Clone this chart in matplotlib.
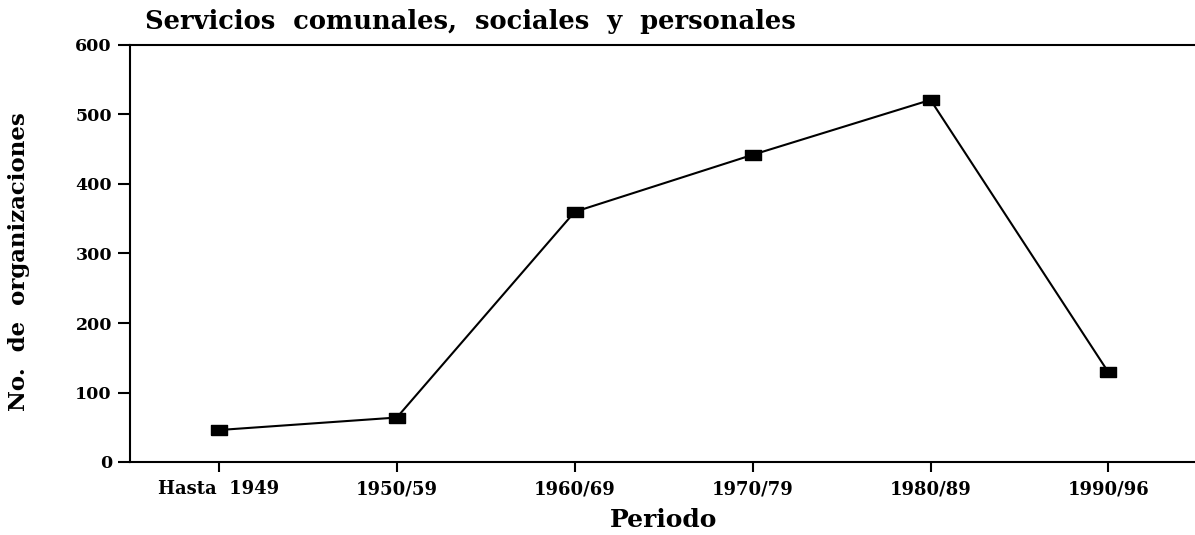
import matplotlib
matplotlib.use("Agg")
import matplotlib.pyplot as plt

periods = ["Hasta  1949", "1950/59", "1960/69", "1970/79", "1980/89", "1990/96"]
counts = [46, 64, 360, 442, 521, 129]
yticks = [0, 100, 200, 300, 400, 500, 600]

fig = plt.figure(figsize=(11.95, 5.35), dpi=100)
ax = fig.add_axes([130/1195, 1-462/535, 1-130/1195 + 0.002, (462-45)/535])

rect = [(-1, -0.62), (1, -0.62), (1, 0.62), (-1, 0.62), (-1, -0.62)]
x = list(range(len(periods)))
ax.plot(x, counts, color="black", lw=1.5, marker=rect, markersize=11.5,
        markerfacecolor="black", markeredgecolor="black")

ax.set_xlim(-0.5, 5.5)
ax.set_ylim(0, 600)
ax.set_xticks(x)
ax.set_xticklabels(periods)
ax.set_yticks(yticks)
ax.spines["right"].set_visible(False)
for s in ["left", "bottom", "top"]:
    ax.spines[s].set_linewidth(1.5)
ax.tick_params(axis="y", direction="out", length=9, width=1.5, pad=4)
ax.tick_params(axis="x", direction="out", length=7, width=1.5, pad=6)
for lab in ax.get_xticklabels():
    lab.set_fontfamily("DejaVu Serif")
    lab.set_fontweight("bold")
    lab.set_fontsize(13)
for lab in ax.get_yticklabels():
    lab.set_fontfamily("DejaVu Serif")
    lab.set_fontweight("bold")
    lab.set_fontsize(12.5)

ax.set_xlabel("Periodo", fontfamily="DejaVu Serif", fontweight="bold", fontsize=18)
ax.xaxis.set_label_coords(0.5, -0.11)
ax.set_ylabel("No.  de  organizaciones", fontfamily="DejaVu Serif", fontweight="bold",
              fontsize=16.5)
ax.yaxis.set_label_coords(-0.094, 0.48)
fig.text(145/1195, 1-22/535, "Servicios  comunales,  sociales  y  personales",
         fontfamily="DejaVu Serif", fontweight="bold", fontsize=18.5, va="center", ha="left")

fig.savefig("out.png", dpi=100)
